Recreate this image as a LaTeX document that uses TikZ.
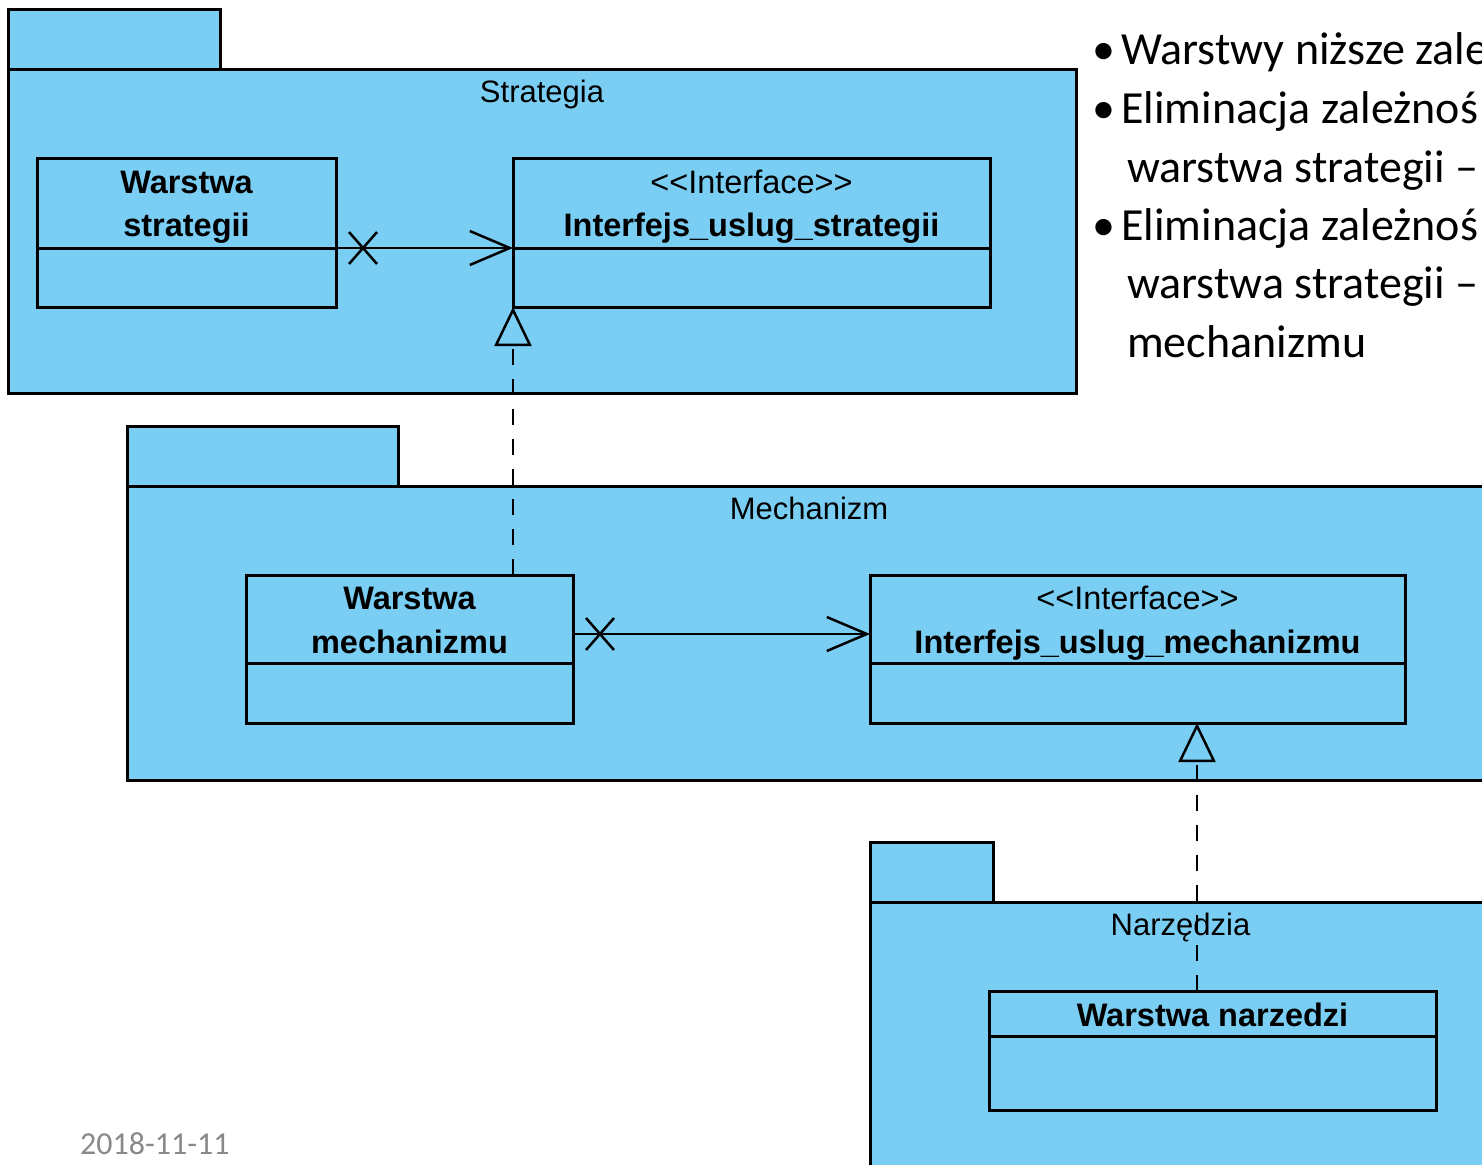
\documentclass[tikz,border=0pt]{standalone}
\usepackage{fontspec}
\setmainfont{Carlito}
\newfontfamily\umlfont{Liberation Sans}
\usetikzlibrary{arrows.meta}
\definecolor{pkgblue}{RGB}{122,206,243}
\definecolor{dategray}{RGB}{137,137,137}
\tikzset{
  pkgpart/.style={draw, fill=pkgblue, line width=3pt, anchor=north west, inner sep=0pt, outer sep=0pt},
  pkgtitle/.style={anchor=base, inner sep=0pt, font=\umlfont\fontsize{31}{36}\selectfont},
  compbox/.style={draw, line width=3pt, anchor=north west, inner sep=0pt, outer sep=0pt},
  clsname/.style={anchor=base, inner sep=0pt, font=\umlfont\bfseries\fontsize{32.5}{40}\selectfont},
  stereo/.style={anchor=base, inner sep=0pt, font=\umlfont\fontsize{32.5}{40}\selectfont},
  assoc/.style={line width=2.5pt, -{Straight Barb[length=40pt, width=34pt, line width=2.5pt]}},
  xmark/.style={line width=2.5pt},
  realize/.style={line width=2.5pt, dash pattern=on 16pt off 14pt,
    -{Triangle[open, length=39pt, width=37pt, line width=2.5pt]}},
  slidetext/.style={anchor=base west, inner sep=0pt, font=\fontsize{46}{58}\selectfont},
  datetext/.style={anchor=base west, inner sep=0pt, text=dategray, font=\fontsize{32}{38}\selectfont}
}
\begin{document}
\begin{tikzpicture}[x=1pt, y=-1pt]
\clip (0,0) rectangle (1482,1164);
\fill[white] (0,0) rectangle (1482,1164);

% package: Strategia
\node[pkgpart, minimum width=212pt, minimum height=59pt] (strTab) at (8,10) {};
\node[pkgpart, minimum width=1068pt, minimum height=324pt] (strBody) at (8,69) {};
\node[pkgtitle] (strTitle) at ([yshift=-33pt]strBody.north) {Strategia};

% package: Mechanizm
\node[pkgpart, minimum width=271pt, minimum height=60pt] (mechTab) at (127,426) {};
\node[pkgpart, minimum width=1364pt, minimum height=294pt] (mechBody) at (127,486) {};
\node[pkgtitle] (mechTitle) at ([yshift=-33pt]mechBody.north) {Mechanizm};

% package: Narzędzia
\node[pkgpart, minimum width=123pt, minimum height=60pt] (narzTab) at (870,842) {};
\node[pkgpart, minimum width=621pt, minimum height=300pt] (narzBody) at (870,902) {};
\node[pkgtitle] (narzTitle) at ([yshift=-33pt]narzBody.north) {Narzędzia};

% class: Warstwa strategii
\node[compbox, minimum width=299pt, minimum height=90pt] (wsN) at (37,158) {};
\node[compbox, minimum width=299pt, minimum height=59pt] (wsA) at (wsN.south west) {};
\node[clsname] (wsL1) at ([yshift=-35pt]wsN.north) {Warstwa};
\node[clsname] (wsL2) at ([yshift=-78pt]wsN.north) {strategii};

% interface: Interfejs_uslug_strategii
\node[compbox, minimum width=477pt, minimum height=90pt] (isN) at (513,158) {};
\node[compbox, minimum width=477pt, minimum height=59pt] (isA) at (isN.south west) {};
\node[stereo] (isL1) at ([yshift=-35pt]isN.north) {<\kern0pt<Interface>\kern0pt>};
\node[clsname] (isL2) at ([yshift=-78pt]isN.north) {Interfejs\_uslug\_strategii};

% class: Warstwa mechanizmu
\node[compbox, minimum width=327pt, minimum height=88pt] (wmN) at (246,575) {};
\node[compbox, minimum width=327pt, minimum height=60pt] (wmA) at (wmN.south west) {};
\node[clsname] (wmL1) at ([yshift=-34pt]wmN.north) {Warstwa};
\node[clsname] (wmL2) at ([yshift=-78pt]wmN.north) {mechanizmu};

% interface: Interfejs_uslug_mechanizmu
\node[compbox, minimum width=535pt, minimum height=88pt] (imN) at (870,575) {};
\node[compbox, minimum width=535pt, minimum height=60pt] (imA) at (imN.south west) {};
\node[stereo] (imL1) at ([yshift=-34pt]imN.north) {<\kern0pt<Interface>\kern0pt>};
\node[clsname] (imL2) at ([yshift=-78pt]imN.north) {Interfejs\_uslug\_mechanizmu};

% class: Warstwa narzedzi
\node[compbox, minimum width=447pt, minimum height=45pt] (wnN) at (989,991) {};
\node[compbox, minimum width=447pt, minimum height=74pt] (wnA) at (wnN.south west) {};
\node[clsname] (wnL1) at ([yshift=-35pt]wnN.north) {Warstwa narzedzi};

% navigable associations, non-navigable at the source end
\draw[assoc] (wsN.south east) -- (isN.south west);
\draw[xmark] ([xshift=27pt]wsN.south east) +(-14,-16) -- +(14,16)
                                          +(-14,16) -- +(14,-16);
\draw[assoc] ([yshift=-59pt]wmN.north east) -- ([yshift=-59pt]imN.north west);
\draw[xmark] ([xshift=27pt, yshift=-59pt]wmN.north east) +(-14,-16) -- +(14,16)
                                                        +(-14,16) -- +(14,-16);

% realizations of the service interfaces
\draw[realize] (wmN.north -| isA.south west) -- (isA.south west);
\coordinate (narzTop) at (1197,991);
\draw[realize] (narzTop) -- (narzTop |- imA.south);

% bullet list
\node[slidetext] (b1) at (1092,65) {•};
\node[slidetext] (t1) at (1121,65) {Warstwy niższe zale};
\node[slidetext] (b2) at (1092,123) {•};
\node[slidetext] (t2) at (1121,123) {Eliminacja zależnoś};
\node[slidetext] (t3) at (1127,182) {warstwa strategii –};
\node[slidetext] (b4) at (1092,240) {•};
\node[slidetext] (t4) at (1121,240) {Eliminacja zależnoś};
\node[slidetext] (t5) at (1127,298) {warstwa strategii –};
\node[slidetext] (t6) at (1127,357) {mechanizmu};

% date
\node[datetext] (date) at (80,1154) {2018-11-11};
\end{tikzpicture}
\end{document}
